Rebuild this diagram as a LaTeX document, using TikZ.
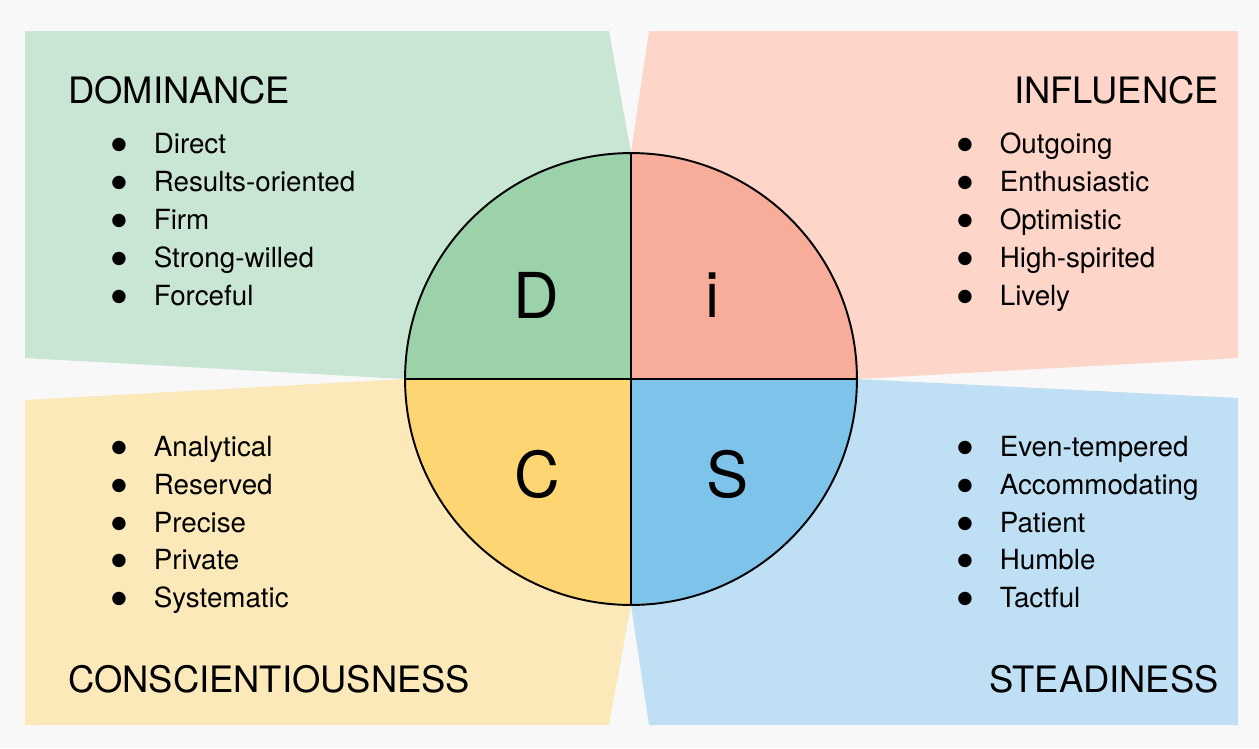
\documentclass[tikz,border=0pt]{standalone}
\usepackage{fontspec}
\setmainfont{TeX Gyre Heros}
\newfontfamily\symfont{DejaVu Sans}
\usepackage{xcolor}

\definecolor{bgcol}{HTML}{F8F8F8}
\definecolor{dpanel}{HTML}{C9E5D3}
\definecolor{dquad}{HTML}{9BD2AA}
\definecolor{ipanel}{HTML}{FDD5C9}
\definecolor{iquad}{HTML}{F8AD9B}
\definecolor{cpanel}{HTML}{FBE9B9}
\definecolor{cquad}{HTML}{FDD673}
\definecolor{spanel}{HTML}{BFE0F4}
\definecolor{squad}{HTML}{7EC4EA}

\newcommand{\bul}{\makebox[0.85cm][l]{\raisebox{0.14em}{\symfont\fontsize{10}{11}\selectfont ●}}}

\tikzset{
  head/.style={inner sep=0pt, font=\fontsize{20.7}{24}\selectfont},
  item/.style={anchor=base west, inner sep=0pt, font=\fontsize{15.8}{19}\selectfont},
  letter/.style={inner sep=0pt, font=\fontsize{36}{40}\selectfont},
  rim/.style={line width=1.1pt}
}

\begin{document}
\begin{tikzpicture}[x=0.02cm, y=-0.02cm]
  % Draw the background
  \fill[bgcol] (0,0) rectangle (1259,748);

  % Draw the four panels
  \fill[dpanel] (25,31) -- (609,31) -- (631,153) -- (631,379) -- (405,379) -- (25,358) -- cycle;
  \fill[ipanel] (649,31) -- (1238,31) -- (1238,358) -- (857,379) -- (631,379) -- (631,153) -- cycle;
  \fill[cpanel] (25,400) -- (405,379) -- (631,379) -- (631,605) -- (609,725) -- (25,725) -- cycle;
  \fill[spanel] (857,379) -- (1238,398) -- (1238,725) -- (649,725) -- (631,605) -- (631,379) -- cycle;

  % Draw the quarters of the circle
  \begin{scope}
    \clip (631,379) circle (4.52cm);
    \fill[dquad] (631,379) rectangle (400,150);
    \fill[iquad] (631,379) rectangle (860,150);
    \fill[cquad] (631,379) rectangle (400,610);
    \fill[squad] (631,379) rectangle (860,610);
  \end{scope}
  \node[circle, draw, rim, minimum size=9.04cm, inner sep=0pt] (disc) at (631,379) {};
  \draw[rim] (disc.north) -- (disc.south);
  \draw[rim] (disc.west) -- (disc.east);

  % Draw the letters
  \node[letter] (ld) at (536,295) {D};
  \node[letter] (li) at (713,295) {i};
  \node[letter] (lc) at (537,474) {C};
  \node[letter] (ls) at (728,474) {S};

  % Draw the titles
  \node[head, anchor=base west] (dom) at (68,103) {DOMINANCE};
  \node[head, anchor=base east] (inf) at (1219,103) {INFLUENCE};
  \node[head, anchor=base west] (con) at (68,692) {CONSCIENTIOUSNESS};
  \node[head, anchor=base east] (ste) at (1219,692) {STEADINESS};

  % Draw the lists
  \node[item] (d1) at (111,153) {\bul Direct};
  \node[item] (d2) at (111,191) {\bul Results-oriented};
  \node[item] (d3) at (111,229) {\bul Firm};
  \node[item] (d4) at (111,267) {\bul Strong-willed};
  \node[item] (d5) at (111,305) {\bul Forceful};

  \node[item] (i1) at (957,153) {\bul Outgoing};
  \node[item] (i2) at (957,191) {\bul Enthusiastic};
  \node[item] (i3) at (957,229) {\bul Optimistic};
  \node[item] (i4) at (957,267) {\bul High-spirited};
  \node[item] (i5) at (957,305) {\bul Lively};

  \node[item] (c1) at (111,456) {\bul Analytical};
  \node[item] (c2) at (111,494) {\bul Reserved};
  \node[item] (c3) at (111,532) {\bul Precise};
  \node[item] (c4) at (111,569) {\bul Private};
  \node[item] (c5) at (111,607) {\bul Systematic};

  \node[item] (s1) at (957,456) {\bul Even-tempered};
  \node[item] (s2) at (957,494) {\bul Accommodating};
  \node[item] (s3) at (957,532) {\bul Patient};
  \node[item] (s4) at (957,569) {\bul Humble};
  \node[item] (s5) at (957,607) {\bul Tactful};
\end{tikzpicture}
\end{document}
